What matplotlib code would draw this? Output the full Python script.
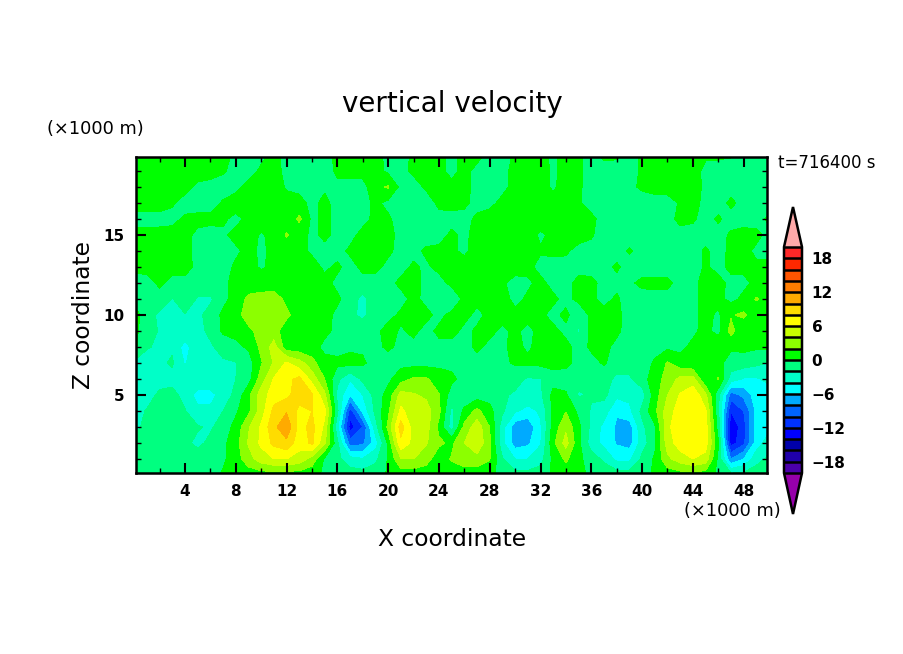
import numpy as np
import matplotlib
matplotlib.use("Agg")
import matplotlib.pyplot as plt
from matplotlib.colors import ListedColormap, BoundaryNorm

x_km = list(range(0, 51))
z_km = list(range(0, 21))

w_z00 = [-0.6,-0.6,-0.6,-0.6,-0.6,-0.6,-0.5,0.2,0.6,0.8, 0.9,0.9,0.9,0.8,0.6,-0.3,-0.6,-0.9,-1,-0.8,
         0.2,0.7,0.8,0.7,0.5,0.7,0.8,0.8,0.7,-1, -1.2,-1.2,-0.9,0.3,0.7,0.4,-0.3,-0.6,-0.9,-0.9,
         -0.5,0.2,0.8,1,1,0.8,-0.3,-1.2,-1.2,-0.8, -0.6]
w_z01 = [-1,-1,-1,-1,-1,-1,-1,-0.3,1,3.2, 5,6,6,5.2,3.2,-0.3,-1.5,-3.2,-3.8,-2.5,
         0.2,3.9,4,2.8,0.8,2.2,3.2,3.2,2.1,-1.8, -4,-4,-2.8,0.5,2.4,0.5,-1,-2.4,-4.5,-4.5,
         -1.5,0.3,3.5,5,6,5.2,-0.5,-8,-6,-2.8, -1.5]
w_z02 = [-1.5,-1.2,-1.2,-1.2,-1.5,-2.5,-1.5,-0.5,1.2,4.2, 6.4,8.5,9.5,6.8,8.4,4.4,-1.5,-9,-8.5,-5,
         0.5,7.5,5.4,4.2,2.4,1.5,4,5.7,2.3,-3.5, -7,-6.4,-4.2,1.5,4.8,0.5,-3,-4.6,-6.2,-6.8,
         -3,-0.5,5,7,7.7,7,0.3,-13,-10.5,-5, -3]
w_z03 = [-2.5,-1.5,-1.2,-1.2,-1.3,-1.8,-2.3,-1,0.6,3.8, 6.3,9.5,11.5,7.2,8.6,5.5,-3.5,-13,-10,-2.8,
         2.5,9,5,4.8,1.5,-3,2.6,5.2,2,-3.2, -7.2,-7.6,-4.3,0.8,3.6,0.5,-2.5,-4.6,-6.3,-7,
         -2.5,-0.3,5.5,7.5,7.8,7,-1,-13.5,-11,-5, -4.5]
w_z04 = [-3,-1.8,-1.3,-1.2,-1.9,-3.5,-3.5,-2,-0.3,1.5, 5,8.6,9.8,7.4,8,6.5,-1.5,-11,-5.5,-1.5,
         1.5,6.5,4.7,4.9,2.5,-2.5,0.5,2.6,0.6,-1.7, -3.7,-4.7,-3.7,0.5,1.9,-0.5,-2.2,-3,-5.8,-4.5,
         -1.5,1.5,5,7,7.9,6.3,-1.5,-12,-10,-5.5, -5]
w_z05 = [-3,-3,-1.5,-1.5,-2.6,-4.8,-4.8,-3,-1.5,1.5, 5,7,7.5,9,8.3,4.5,-2.5,-6,-4,-1.2,
         0.8,4.8,4.2,3.6,2.1,-1,-1.6,-1,-0.7,-1.8, -2.2,-2.6,-2.4,0.6,0.3,-2.2,-1.8,-1.5,-3.5,-3.5,
         -3,1,4,6.2,7.5,4.5,-1.5,-9,-7.5,-5, -5]
w_z06 = [-2.5,-2.5,-3,-2.5,-2.6,-2.5,-2.3,-2.3,-2,-0.8, 3,6.2,7.5,8.5,5.2,2,-1.5,-3.8,-1.5,-0.8,
         -0.5,1.2,2.3,2.2,1.2,0.5,-0.8,-1,-1,-1.2, -1.5,-2.2,-2.1,-0.8,-1,-1.5,-1,-1.1,-2.5,-2.3,
         -0.8,1,2.8,4.5,4.8,0,2.2,-3,-4.2,-4.2, -3.5]
w_z07 = [-2.5,-2.5,-2.3,-1.8,-4.2,-2.5,-2,-2.2,-2.1,-1, 1.8,4.2,6.3,4.8,2.8,0.5,0.4,0.8,0.3,-0.8,
         -0.8,-0.6,-0.7,-0.7,-0.6,-0.6,-0.7,-0.7,-0.6,-0.5, 0.3,0.4,0.5,0.6,0.5,-0.7,-0.6,0.2,-0.8,-1.2,
         -0.7,0.2,2.2,0.8,0.3,1.5,0.5,-0.8,-1,-1.5, -2.2]
w_z08 = [0.5,-1.9,-2.2,-2.2,-5,-2.3,-2.2,-1.5,-0.5,0.3, 2.5,4.8,0.8,0.7,0.6,-0.4,-0.6,-0.4,-0.3,-0.4,
         0.3,-0.4,-0.5,-0.6,-0.5,-0.7,-0.7,0.4,-0.5,-0.3, 0.5,-0.3,0.7,0.8,0.6,-0.8,0.3,0.4,-0.4,-0.8,
         -0.7,-0.5,-0.4,-0.5,0.5,0.7,1.8,0.3,0.5,0.3, 0.4]
w_z09 = [0.7,-1.5,-2.1,-2.2,-2.1,-2.4,-1.7,0.4,0.6,1.5, 2.8,3,0.6,1.2,0.8,0.4,-0.4,-0.5,-0.6,-0.4,
         0.6,-0.2,0.4,-0.6,0.4,0.7,-0.5,0.3,0.5,-0.4, 0.4,-0.6,0.7,0.5,-0.5,-2.2,0.6,0.6,0.3,-0.6,
         -0.8,-0.7,-0.5,-0.6,-0.4,0.6,-0.7,2.7,0.4,0.8, 0.5]
w_z10 = [0.8,-1,-2.5,-2.2,-2.1,-2.5,-1.2,0.4,1.2,3, 3,3,2.5,0.8,0.7,0.6,-0.4,-1.5,-2.5,-0.8,
         -0.5,0.3,0.4,0.5,-0.5,0.5,0.6,-0.5,0.5,0.6, 0.5,0.7,0.4,-0.6,0.5,-1.5,0.5,0.8,0.3,-0.5,
         -0.5,-0.6,-0.6,-0.7,-0.4,0.5,-0.3,1.8,2.4,0.6, 0.5]
w_z11 = [-0.5,-0.7,-0.6,-2.1,-0.8,-2.2,-2.3,-0.5,0.7,2.5, 2.8,3,1.5,0.7,0.6,0.7,0.3,-0.8,-2.7,-0.5,
         -0.5,-0.6,0.5,-0.5,-0.7,-1.5,0.5,0.5,0.8,0.7, -0.5,0.3,0.6,0.4,-0.6,0.5,0.4,-0.6,0.3,-1,
         -0.7,-0.6,-0.6,-0.5,-0.5,0.7,0.5,-0.5,0.4,2.2, 0.8]
w_z12 = [-1,-0.6,0.3,-0.5,-0.6,-0.6,-0.7,-0.5,0.7,0.8, 0.9,0.9,1,0.8,0.7,0.5,-0.4,-0.5,-0.6,-0.6,
         -0.5,0.4,0.6,-0.5,-0.7,0.5,0.5,0.3,0.3,0.2, -0.5,-0.3,0.5,-0.6,-0.7,0.6,0.5,-0.6,-0.5,-0.3,
         0.4,0.4,0.4,-0.6,-0.5,0.7,0.6,-0.5,-0.4,0.4, 0.7]
w_z13 = [0.5,0.6,0.6,0.5,0.7,-0.5,-0.6,-0.7,0.3,0.6, -0.2,0.4,0.7,0.8,0.7,-0.3,0.3,-0.6,0.4,0.4,
         -0.4,-0.6,0.3,-0.3,0.5,0.6,0.7,0.6,0.7,0.8, 0.6,0.5,-0.6,-0.7,-0.7,-0.7,-0.7,-0.7,0.3,-0.8,
         -0.8,-0.8,-0.8,-0.8,-0.7,0.2,-0.5,0.4,0.4,0.4, 0.6]
w_z14 = [0.8,0.8,0.8,0.8,0.5,-0.5,-0.7,-0.8,-0.3,0.5, -0.3,0.4,0.7,0.6,-0.3,-0.4,-0.6,0.3,0.7,0.6,
         0.3,-0.5,-0.5,0.3,0.4,0.3,-0.3,0.6,0.6,0.7, 0.6,0.6,0.2,0.4,0.3,-0.7,-0.6,-0.8,-0.7,0.2,
         -0.6,-0.8,-0.8,-0.8,-0.8,0.3,-0.8,0.5,0.6,-0.4, -0.6]
w_z15 = [0.7,0.7,0.7,0.7,0.5,-0.4,-0.6,-0.3,0.5,0.7, -0.2,0.5,2.2,0.6,-0.3,0.3,-0.4,-0.5,0.5,0.4,
         0.6,-0.6,-0.8,-0.8,-0.6,0.3,-0.3,0.5,0.8,0.8, 0.8,0.8,-0.3,0.4,0.8,0.9,0.2,-0.8,-0.8,-0.8,
         -0.8,-0.8,-0.8,-0.8,-0.8,-0.8,-0.7,0.3,0.7,0.5, -0.6]
w_z16 = [-0.7,-0.7,-0.7,-0.5,0.3,0.5,0.4,0.3,-0.5,0.5, 0.8,0.8,0.7,2.4,-0.4,0.4,-0.4,-0.6,-0.5,0.4,
         0.3,-0.8,-0.9,-0.8,-0.6,-0.5,-0.5,0.3,0.9,0.9, 0.9,0.9,0.9,0.9,0.9,0.9,0.5,-0.8,-0.8,-0.8,
         -0.8,-0.8,-0.8,0.6,0.3,-0.8,0.3,-0.8,-0.8,-0.8, 0.4]
w_z17 = [0.8,0.8,0.8,0.2,-0.7,-0.8,-0.6,0.2,0.9,0.9, 0.9,0.9,0.7,0.6,-0.5,0.5,-0.7,-0.7,-0.7,0.4,
         -0.5,-0.9,-0.9,-0.9,0.4,0.5,0.3,-0.5,-0.5,0.5, 0.8,0.8,0.8,0.8,0.8,0.2,-0.8,-0.9,-0.9,-0.9,
         -0.9,-0.9,-0.8,0.2,0.6,-0.5,-0.8,0.4,-0.6,-0.8, -0.8]
w_z18 = [0.9,0.9,0.9,0.9,0.6,-0.4,-0.8,-0.8,-0.5,0.6, 0.9,0.9,-0.2,-0.5,-0.4,-0.3,-0.5,-0.8,-0.8,1.5,
         2.2,-0.6,-0.8,0.3,0.4,0.5,0.5,-0.5,-0.7,-0.5, 0.6,0.8,0.7,-0.3,0.8,0.3,-0.8,-0.8,-0.7,-0.4,
         0.3,0.8,0.8,0.8,0.8,-0.4,-0.8,-0.8,-0.8,-0.8, -0.8]
w_z19 = [-0.5,0.9,0.9,0.9,0.9,0.9,0.9,0.2,-0.6,-0.7, 0.3,0.8,-0.6,-0.9,-0.9,-0.9,0.4,0.7,0.8,0.8,
         -0.4,-0.6,0.4,0.7,0.5,-0.5,0.5,-0.5,-0.9,-0.5, 0.5,0.8,0.7,-0.3,0.6,0.3,-0.6,-0.7,-0.7,-0.8,
         0.3,0.8,0.8,0.8,0.8,-0.5,-0.9,-0.9,-0.9,-0.9, -0.9]
w_z20 = [-0.4,0.8,0.8,0.8,0.8,0.8,0.8,0.8,-0.5,-0.8, -0.4,0.4,-0.4,-0.8,-0.8,-0.8,0.5,0.7,0.7,0.6,
         -0.5,-0.8,0.4,0.6,0.5,-0.5,0.6,0.6,-0.6,-0.8, 0.3,0.7,0.5,-0.3,0.7,0.2,-0.6,0.4,0.3,-0.7,
         0.3,0.8,0.8,0.8,0.8,0.3,0.4,0.2,-0.7,-0.7, -0.7]

w_rows = [w_z00, w_z01, w_z02, w_z03, w_z04, w_z05, w_z06, w_z07, w_z08, w_z09, w_z10,
          w_z11, w_z12, w_z13, w_z14, w_z15, w_z16, w_z17, w_z18, w_z19, w_z20]

levels = list(range(-20, 21, 2))
level_colors = ['#4b00aa', '#2000aa', '#0000aa', '#0000ff', '#0032ff', '#0064ff', '#00aaff',
                '#00ffff', '#00ffc8', '#00ff80', '#00ff00', '#8cff00', '#c8ff00', '#ffff00',
                '#ffdc00', '#ffaa00', '#ff7d00', '#ff5500', '#ff2800', '#ff2828']
over_color = '#ffaaaa'
under_color = '#9600aa'
cbar_ticks = [-18, -12, -6, 0, 6, 12, 18]
x_major = list(range(4, 49, 4))
x_minor = list(range(2, 50, 4))
z_major = [5, 10, 15]
z_minor = [z for z in range(1, 20) if z % 5]

W, H = 904, 654
fig = plt.figure(figsize=(W / 100, H / 100), dpi=100, facecolor='white')
plt.rcParams['font.family'] = 'DejaVu Sans'


def axes_px(x0, y0, x1, y1):
    return fig.add_axes([x0 / W, 1 - y1 / H, (x1 - x0) / W, (y1 - y0) / H])


ax = axes_px(136, 157, 767, 473)
cmap = ListedColormap(level_colors)
cmap.set_over(over_color)
cmap.set_under(under_color)
norm = BoundaryNorm(levels, cmap.N)
Z = np.array(w_rows, dtype=float)
cf = ax.contourf(x_km, z_km, Z, levels=levels, cmap=cmap, norm=norm, extend='both', antialiased=False)
ax.set_xlim(0.14, 49.84)
ax.set_ylim(0.125, 19.875)
ax.set_xticks(x_major)
ax.set_xticks(x_minor, minor=True)
ax.set_yticks(z_major)
ax.set_yticks(z_minor, minor=True)
ax.tick_params(which='major', direction='in', length=7, width=1.5, top=True, right=True,
               labelsize=11, pad=8, color='black')
ax.tick_params(which='minor', direction='in', length=3.5, width=1, top=True, right=True)
for s in ax.spines.values():
    s.set_linewidth(1.8)
ax.set_axisbelow(False)
for lab in ax.get_xticklabels() + ax.get_yticklabels():
    lab.set_fontweight('bold')

fig.text(452 / W, 1 - 104 / H, 'vertical velocity', ha='center', va='center', fontsize=20)
fig.text(452 / W, 1 - 539 / H, 'X coordinate', ha='center', va='center', fontsize=16.8)
fig.text(83 / W, 1 - 315 / H, 'Z coordinate', ha='center', va='center', rotation=90, fontsize=16.8)
fig.text(47 / W, 1 - 129 / H, '(×1000 m)', ha='left', va='center', fontsize=12.8)
fig.text(684 / W, 1 - 511 / H, '(×1000 m)', ha='left', va='center', fontsize=12.8)
fig.text(778 / W, 1 - 163 / H, 't=716400 s', ha='left', va='center', fontsize=12)

cax = axes_px(784, 207, 802, 514)
cb = fig.colorbar(cf, cax=cax, extend='both', extendfrac=(41 / 226, 40 / 226), drawedges=True,
                  spacing='uniform', ticks=cbar_ticks)
cb.ax.minorticks_off()
cb.ax.tick_params(length=0, labelsize=11, pad=7)
for lab in cb.ax.get_yticklabels():
    lab.set_fontweight('bold')
cb.outline.set_linewidth(1.8)
cb.dividers.set_linewidth(1.8)

fig.savefig('out.png', dpi=100, facecolor='white')
